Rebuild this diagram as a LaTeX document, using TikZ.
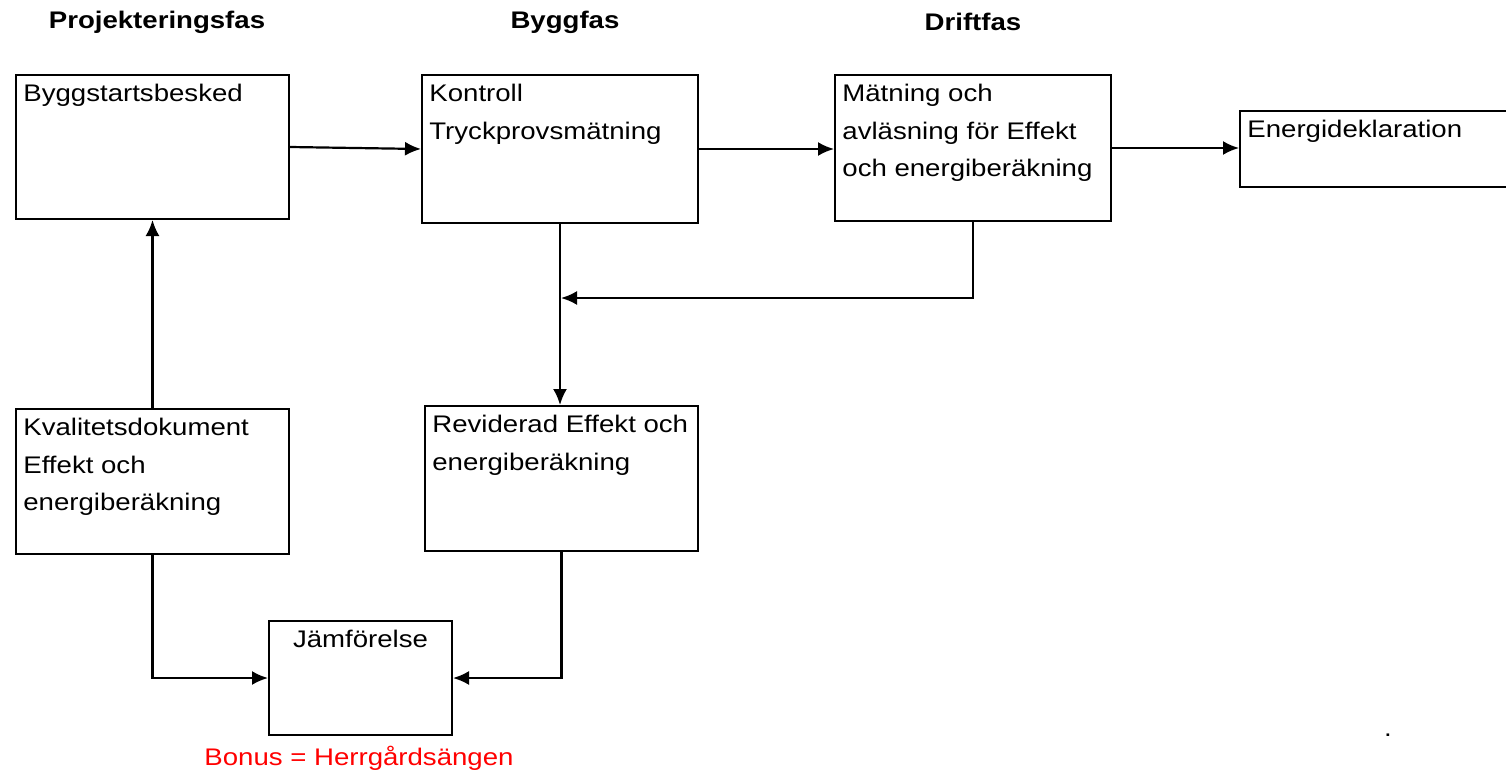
\documentclass[tikz,border=0pt]{standalone}
\usepackage{fontspec}
\setmainfont{Liberation Sans}[FakeStretch=1.15]
\usetikzlibrary{positioning, arrows.meta}

\begin{document}
\begin{tikzpicture}[x=0.5pt, y=-0.5pt, font=\fontsize{12}{18.75}\selectfont]

  \tikzstyle{box}=[draw, line width=1pt, anchor=north west, inner sep=0pt]
  \tikzstyle{txt}=[anchor=north west, align=left, inner xsep=4pt, inner ysep=5pt]
  \tikzstyle{phase}=[font=\fontsize{12}{14}\bfseries\selectfont]
  \tikzstyle{flow}=[-{Latex[length=8pt, width=7pt]}, line width=1.1pt]

  \clip (0,0) rectangle (1506,776);

  \node [phase] (Proj-fas) at (157,22) {Projekteringsfas};
  \node [phase] (Bygg-fas) at (565,22) {Byggfas};
  \node [phase] (Drift-fas) at (973,22) {Driftfas};

  \node [box, minimum width=136.5pt, minimum height=72pt] (Bygg-start) at (15,74) {};
  \node [box, minimum width=138pt, minimum height=74pt] (Kontroll) at (421,74) {};
  \node [box, minimum width=138pt, minimum height=73pt] (Matning) at (834,74) {};
  \node [box, minimum width=150pt, minimum height=38pt] (Energi) at (1239,110) {};
  \node [box, minimum width=136.5pt, minimum height=72.5pt] (Kvalitet) at (15,408) {};
  \node [box, minimum width=136.5pt, minimum height=72.5pt] (Reviderad) at (424,405) {};
  \node [box, minimum width=91.5pt, minimum height=57pt] (Jamfor) at (268,620) {};

  \node [txt] (Bygg-start-txt) at (Bygg-start.north west) {Byggstartsbesked};
  \node [txt] (Kontroll-txt) at (Kontroll.north west) {Kontroll\\Tryckprovsmätning};
  \node [txt] (Matning-txt) at (Matning.north west) {Mätning och\\avläsning för Effekt\\och energiberäkning};
  \node [txt] (Energi-txt) at (Energi.north west) {Energideklaration};
  \node [txt] (Kvalitet-txt) at (Kvalitet.north west) {Kvalitetsdokument\\Effekt och\\energiberäkning};
  \node [txt] (Reviderad-txt) at (Reviderad.north west) {Reviderad Effekt och\\energiberäkning};
  \node [txt, anchor=north] (Jamfor-txt) at (Jamfor.north) {Jämförelse};

  \node [text=red] (Bonus) at (359,758) {Bonus = Herrgårdsängen};
  \node [anchor=base] (Dot) at (1388,736) {.};

  \coordinate (join) at (561,298);

  \draw [flow] (Bygg-start.east) -- (Kontroll.west);
  \draw [flow] (Kontroll.east) -- (Kontroll.east -| Matning.west);
  \draw [flow] (Matning.east) -- (Matning.east -| Energi.west);

  \draw [flow] (Kontroll.south) -- (Kontroll.south |- Reviderad.north);
  \draw [flow] (Matning.south) |- (join);

  \draw [flow] (Kvalitet.north) -- (Bygg-start.south);
  \draw [flow] (Kvalitet.south) |- (Jamfor.west);
  \draw [flow] (Reviderad.south) |- (Jamfor.east);
\end{tikzpicture}
\end{document}
